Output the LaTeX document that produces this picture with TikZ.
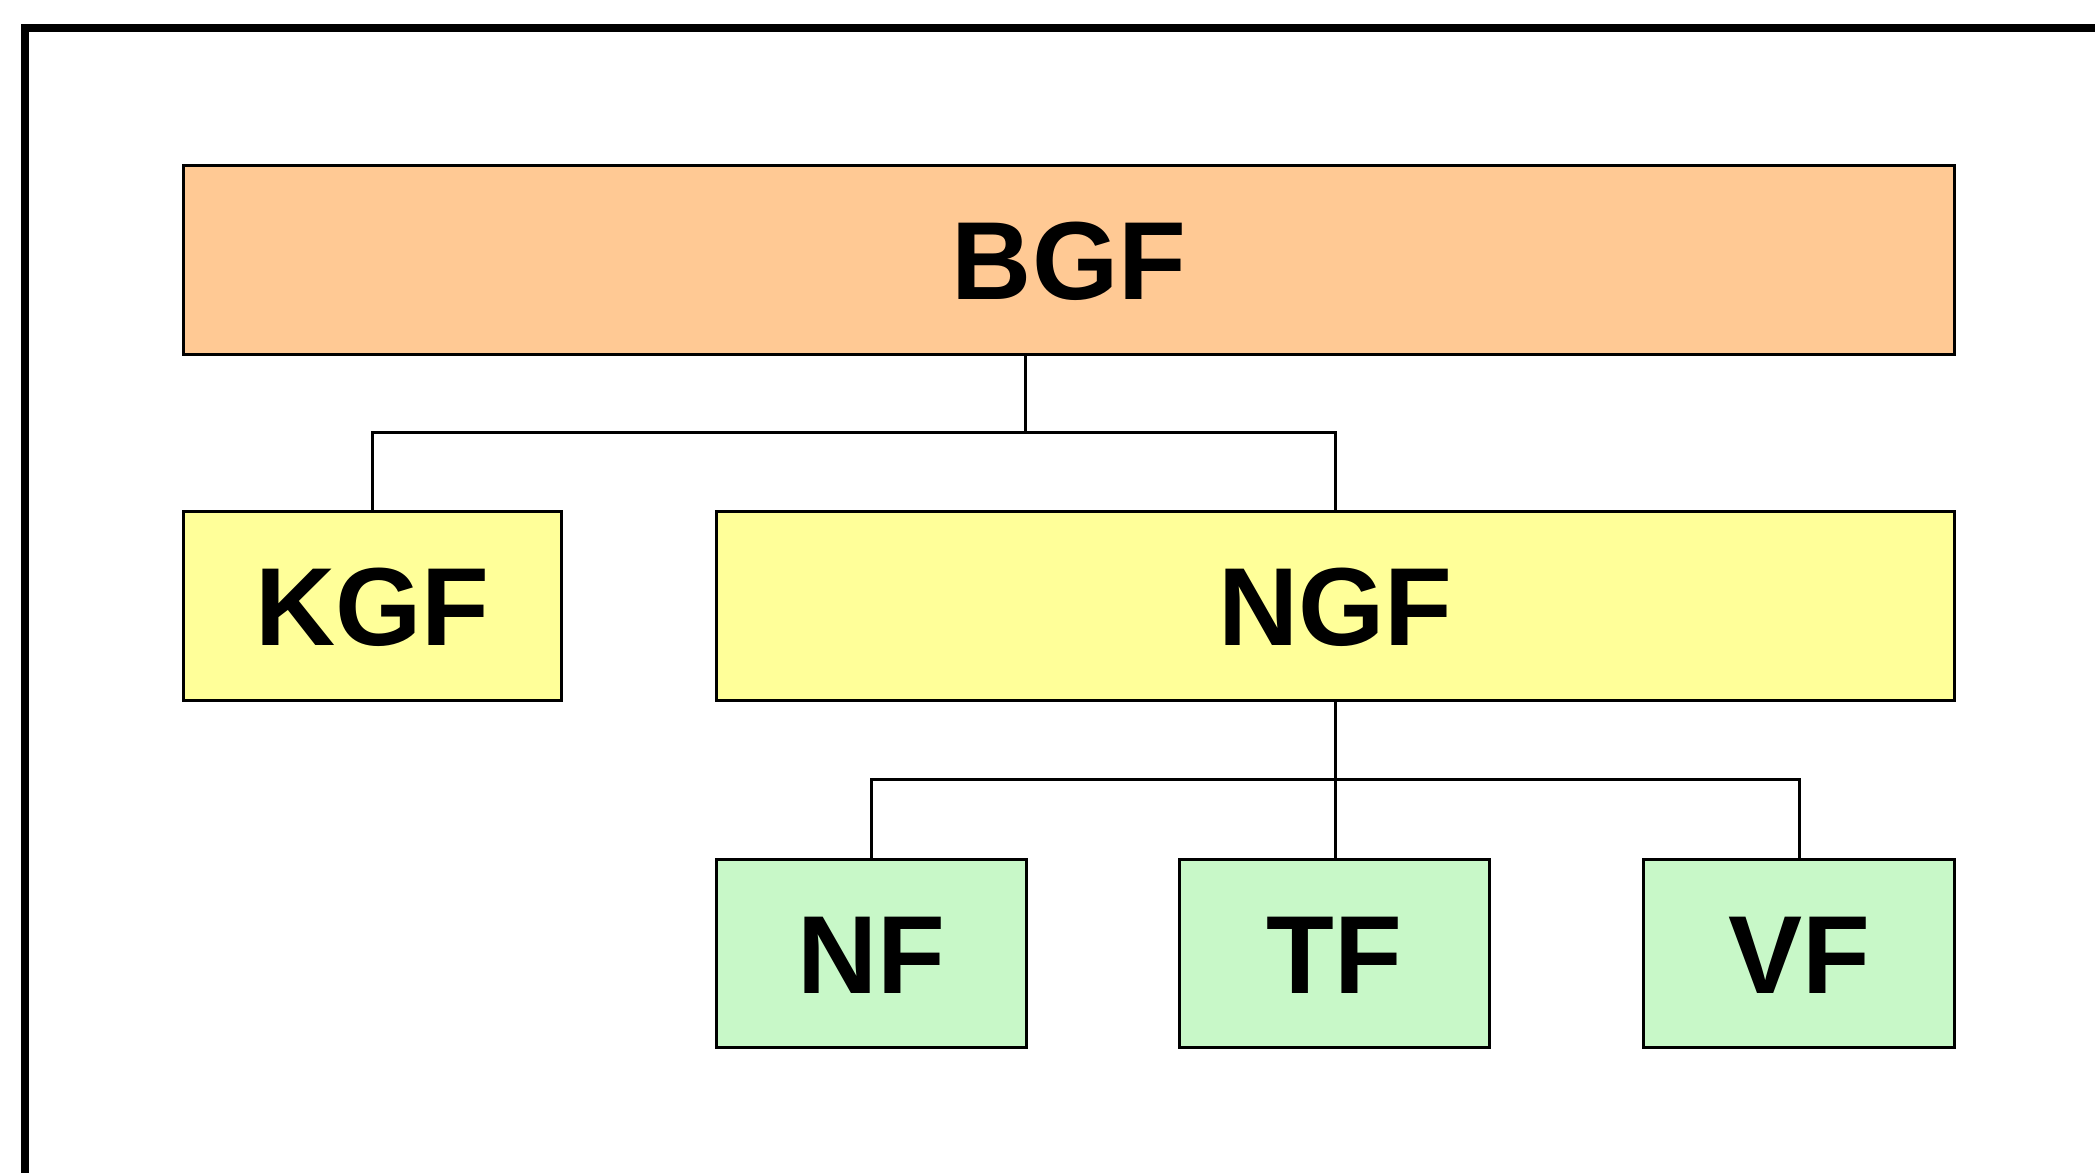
\documentclass[tikz,border=0pt]{standalone}
\usepackage{fontspec}
\setmainfont{Liberation Sans}
\definecolor{boxorange}{HTML}{FFC994}
\definecolor{boxyellow}{HTML}{FFFF99}
\definecolor{boxgreen}{HTML}{C8F8C8}
\tikzset{
  box/.style={draw=black, line width=3pt, inner sep=0pt, anchor=north west,
    font=\fontsize{111}{116}\selectfont\bfseries, text height=79pt, text depth=0pt},
  link/.style={draw=black, line width=3pt},
}
\begin{document}
\begin{tikzpicture}[x=1pt,y=-1pt]
  \useasboundingbox (0,0) rectangle (2095,1172);
  \fill[white] (0,0) rectangle (2095,1172);
  % outer frame (open to the right and bottom)
  \draw[line width=8pt] (25,1180) -- (25,28) -- (2100,28);

  % top level
  \node[box, fill=boxorange, minimum width=1771pt, minimum height=189pt] (BGF) at (182,164) {BGF};
  % second level
  \node[box, fill=boxyellow, minimum width=378pt, minimum height=189pt] (KGF) at (182,510) {KGF};
  \node[box, fill=boxyellow, minimum width=1238pt, minimum height=189pt] (NGF) at (715,510) {NGF};
  % third level
  \node[box, fill=boxgreen, minimum width=310pt, minimum height=188pt] (NF) at (715,858) {NF};
  \node[box, fill=boxgreen, minimum width=310pt, minimum height=188pt] (TF) at (1178,858) {TF};
  \node[box, fill=boxgreen, minimum width=311pt, minimum height=188pt] (VF) at (1642,858) {VF};

  % connectors
  \coordinate (j1) at (1025,432);
  \coordinate (j2) at (NGF.south |- 0,779);
  \draw[link] (j1 |- BGF.south) -- (j1);
  \draw[link] (KGF.north) |- (j1) -| (NGF.north);
  \draw[link] (NGF.south) -- (j2) -- (j2 |- TF.north);
  \draw[link] (NF.north) |- (j2) -| (VF.north);
\end{tikzpicture}
\end{document}
